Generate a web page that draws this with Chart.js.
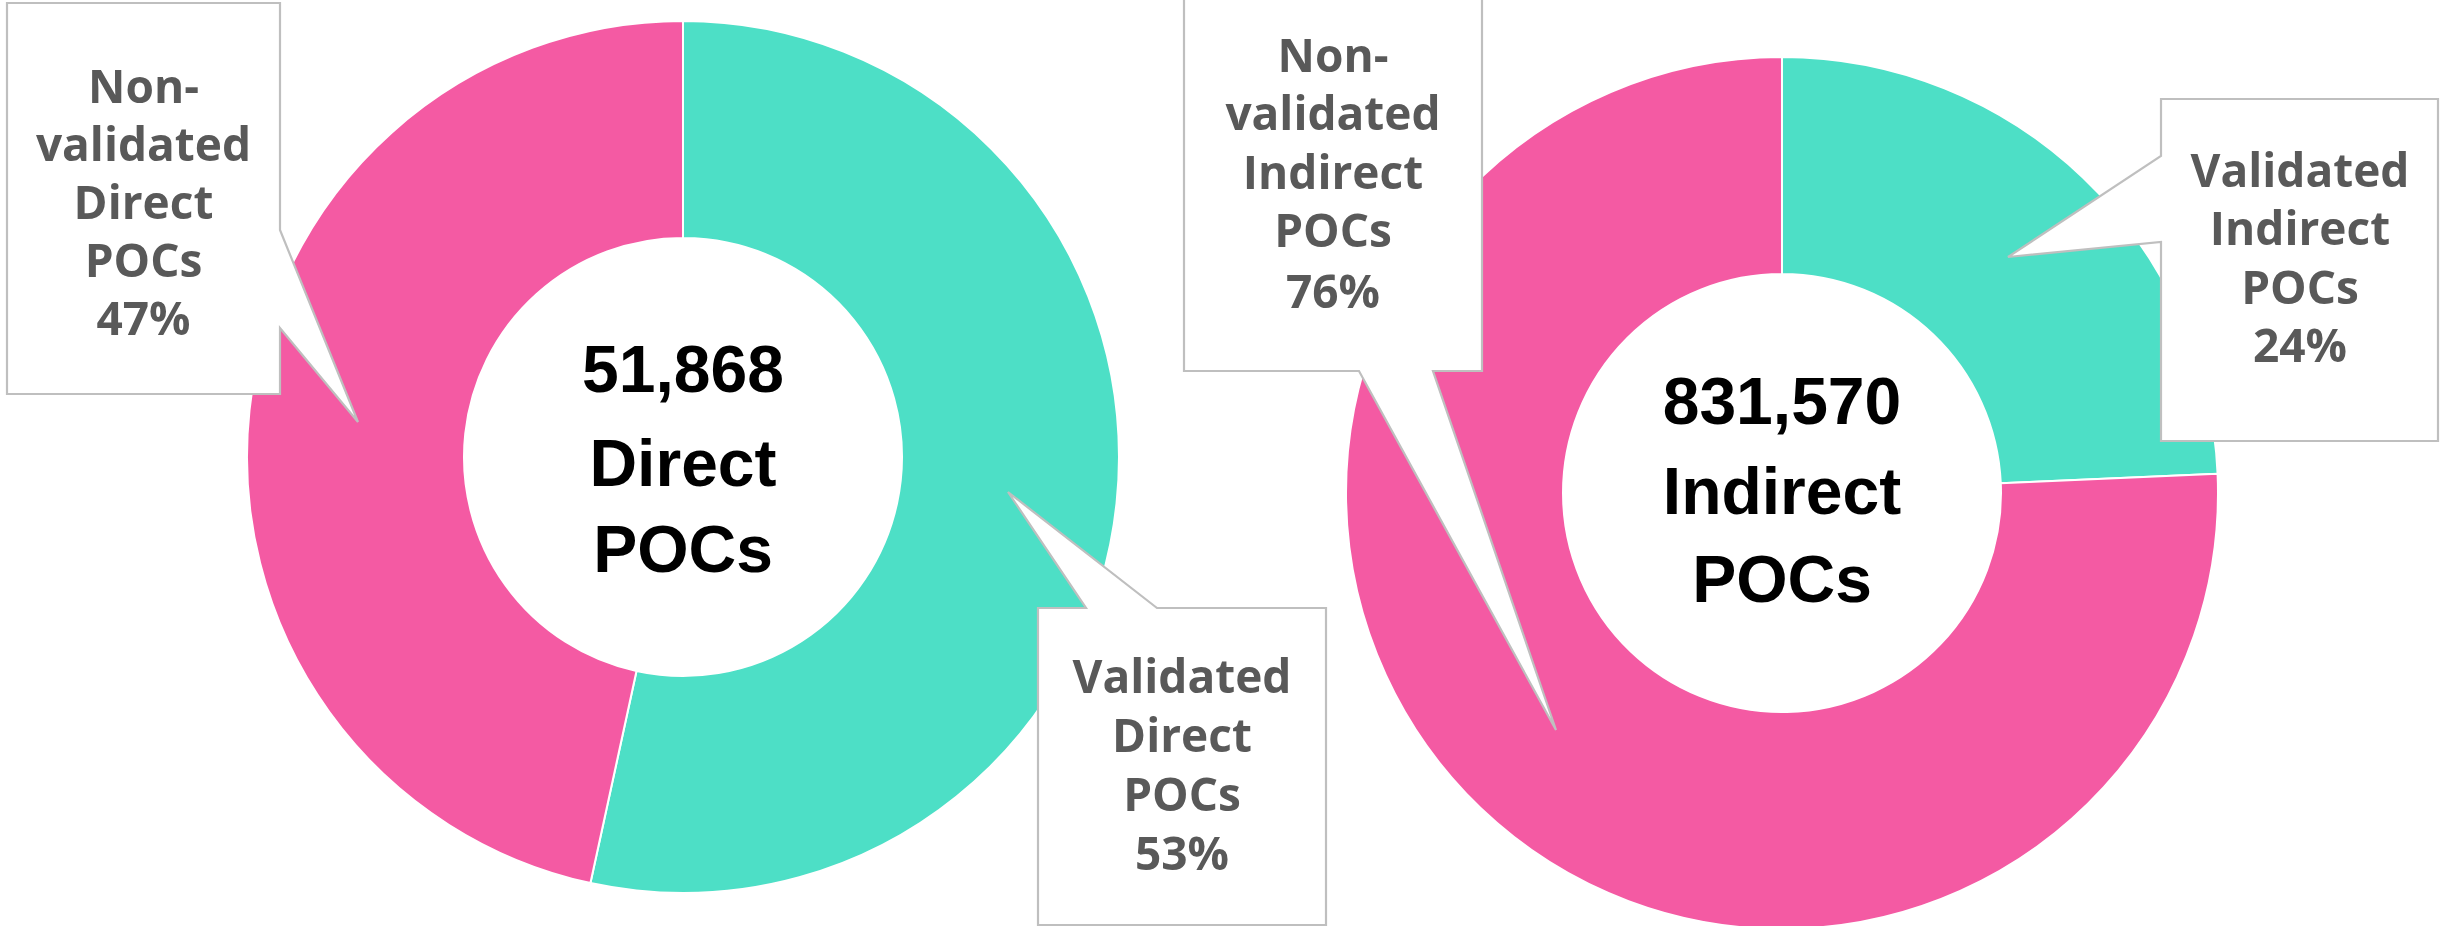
<!DOCTYPE html>
<html>
<head>
<meta charset="utf-8">
<script src="https://cdn.jsdelivr.net/npm/chart.js@4.4.1/dist/chart.umd.min.js"></script>
<style>
  html, body { margin: 0; padding: 0; background: #ffffff; overflow: hidden; }
  #stage { position: relative; width: 2440px; height: 926px; background: #ffffff; overflow: hidden; }
  canvas { position: absolute; }
  #overlay { position: absolute; left: 0; top: 0; pointer-events: none; }
</style>
</head>
<body>
<div id="stage">
  <canvas id="direct" width="874" height="874" style="left:246px;top:20px;"></canvas>
  <canvas id="indirect" width="874" height="874" style="left:1345px;top:56px;"></canvas>
  <svg id="overlay" width="2440" height="926" xmlns="http://www.w3.org/2000/svg"></svg>
</div>
<script>
// ---- data ----
const categories = ['Validated', 'Non-validated'];
const categoryLines = [['Validated'], ['Non-', 'validated']];
const groups = ['Direct', 'Indirect'];
const unitLabel = 'POCs';
const directValues = [27700, 24168];     // total 51,868
const indirectValues = [202070, 629500]; // total 831,570
const sliceColors = ['#4DDFC6', '#F45AA3'];

function makeDonut(id, values) {
  return new Chart(document.getElementById(id), {
    type: 'doughnut',
    data: {
      labels: categories,
      datasets: [{
        data: values,
        backgroundColor: sliceColors,
        borderColor: '#ffffff',
        borderWidth: 2,
        hoverOffset: 0
      }]
    },
    options: {
      responsive: false,
      animation: false,
      cutout: 219,
      layout: { padding: 0 },
      plugins: { legend: { display: false }, tooltip: { enabled: false } }
    }
  });
}
makeDonut('direct', directValues);
makeDonut('indirect', indirectValues);

// ---- annotations (callouts + centre totals) ----
const svg = document.getElementById('overlay');
const NS = 'http://www.w3.org/2000/svg';
function el(tag, attrs, text) {
  const e = document.createElementNS(NS, tag);
  for (const k in attrs) e.setAttribute(k, attrs[k]);
  if (text !== undefined) e.textContent = text;
  svg.appendChild(e);
  return e;
}
function pct(values, i) {
  const t = values.reduce((a, b) => a + b, 0);
  return Math.round(values[i] / t * 100) + '%';
}
function calloutLines(ci, gi, values) {
  return categoryLines[ci].concat([groups[gi], unitLabel, pct(values, ci)]);
}
function callout(points, cx, baselines, lines) {
  el('polygon', { points: points.map(p => p.join(',')).join(' '), fill: '#ffffff', stroke: '#BFBFBF', 'stroke-width': 2.2, 'stroke-linejoin': 'miter' });
  lines.forEach((t, i) => {
    el('text', { x: cx, y: baselines[i], 'text-anchor': 'middle', fill: '#595959',
      'font-family': 'Open Sans, sans-serif', 'font-weight': 700, 'font-size': 46 }, t);
  });
}
function centreText(cx, baselines, lines) {
  lines.forEach((t, i) => {
    el('text', { x: cx, y: baselines[i], 'text-anchor': 'middle', fill: '#000000',
      'font-family': 'Liberation Sans, Arial, sans-serif', 'font-weight': 700, 'font-size': 66 }, t);
  });
}

// Left chart
callout([[7,3],[280,3],[280,230],[358,422],[280,328],[280,394],[7,394]], 143.5,
  [103,161,219,277,335], calloutLines(1, 0, directValues));
callout([[1038,608],[1086,608],[1008,492],[1157,608],[1326,608],[1326,925],[1038,925]], 1182,
  [693,752,811,870], calloutLines(0, 0, directValues));
const dTotal = directValues.reduce((a, b) => a + b, 0);
centreText(683, [392, 486, 572], [dTotal.toLocaleString('en-US'), groups[0], unitLabel]);

// Right chart
callout([[1184,-3],[1482,-3],[1482,371],[1433,371],[1556,730],[1359,371],[1184,371]], 1333,
  [72,130,189,247,308], calloutLines(1, 1, indirectValues));
callout([[2161,99],[2438,99],[2438,441],[2161,441],[2161,242],[2008,257],[2161,156]], 2300,
  [187,245,304,362], calloutLines(0, 1, indirectValues));
const iTotal = indirectValues.reduce((a, b) => a + b, 0);
centreText(1782, [424, 514, 602], [iTotal.toLocaleString('en-US'), groups[1], unitLabel]);
</script>
</body>
</html>
